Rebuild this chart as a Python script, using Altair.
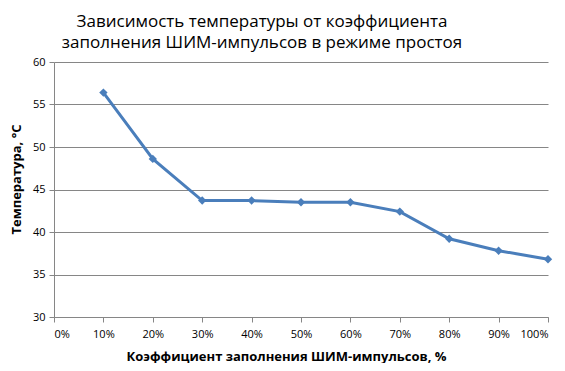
import altair as alt
import pandas as pd

duty = [0.1, 0.2, 0.3, 0.4, 0.5, 0.6, 0.7, 0.8, 0.9, 1.0]
temp = [56.4, 48.6, 43.7, 43.7, 43.5, 43.5, 42.4, 39.2, 37.8, 36.8]

df = pd.DataFrame({"duty": duty, "temp": temp})

FONT = "Open Sans"

base = alt.Chart(df).encode(
    x=alt.X("duty:Q",
            scale=alt.Scale(domain=[0, 1], nice=False),
            axis=alt.Axis(title="Коэффициент заполнения ШИМ-импульсов, %",
                          format=".0%", values=[i / 10 for i in range(11)],
                          grid=False, tickSize=5, labelPadding=6,
                          titlePadding=11, titleX=232)),
    y=alt.Y("temp:Q",
            scale=alt.Scale(domain=[30, 60], nice=False, zero=False),
            axis=alt.Axis(title="Температура, °С", values=[30, 35, 40, 45, 50, 55, 60],
                          grid=True, tickSize=5, labelPadding=4, titlePadding=9,
                          titleY=117)),
)

line = base.mark_line(color="#4a7ebb", strokeWidth=3)
pts = base.mark_point(shape="diamond", filled=True, color="#4a7ebb", size=70, opacity=1)

chart = (line + pts).properties(
    width=494, height=255,
    autosize=alt.AutoSizeParams(type="none"),
    padding={"left": 46, "top": 54, "right": 9, "bottom": 46},
    title=alt.TitleParams(
        text=["Зависимость температуры  от коэффициента",
              "заполнения ШИМ-импульсов в режиме простоя"],
        font=FONT, fontSize=17, fontWeight="normal", color="#000000",
        anchor="middle", dx=-39, offset=4, lineHeight=21,
    ),
).configure_view(stroke=None).configure_axis(
    labelFont=FONT, labelFontSize=11, labelColor="#000000",
    titleFont=FONT, titleFontSize=13, titleFontWeight="bold", titleColor="#000000",
    domainColor="#868686", tickColor="#868686", gridColor="#868686",
    domainWidth=1, tickWidth=1, gridWidth=1,
)

chart.save("out.html", embed_options={"renderer": "svg", "actions": False})
